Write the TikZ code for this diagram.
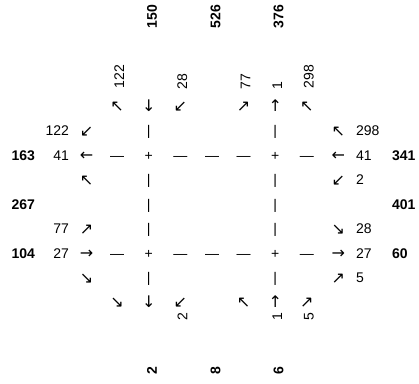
\documentclass[tikz,border=0pt]{standalone}
\usepackage{fontspec}
\setmainfont{Liberation Sans}
\newfontfamily\arw{DejaVu Sans}
\begin{document}
\begin{tikzpicture}[x=1pt,y=-1pt,
  every node/.style={inner sep=0pt, outer sep=0pt, font=\fontsize{14}{16}\selectfont},
  tx/.style={anchor=base},
  ar/.style={anchor=base, font=\fontsize{16}{18}\selectfont\arw},
  bd/.style={font=\fontsize{14}{16}\selectfont\bfseries},
  lnum/.style={anchor=base east},
  rnum/.style={anchor=base west},
  vup/.style={rotate=90, anchor=west},
  vdn/.style={rotate=90, anchor=east}]
\useasboundingbox (0,0) rectangle (419,383);
% top bold labels
\node[bd,vup] (t150) at (152,28) {150};
\node[bd,vup] (t526) at (215.5,28) {526};
\node[bd,vup] (t376) at (278.5,28) {376};
% top small numbers
\node[vup] (tn1) at (119.2,88) {122};
\node[vup] (tn2) at (182.4,89) {28};
\node[vup] (tn3) at (245.6,89) {77};
\node[vup] (tn4) at (277.2,89) {1};
\node[vup] (tn5) at (308.8,88) {298};
% row 0 (y 106, base 111)
\node[ar] (a01) at (117.2,111.5) {↖};
\node[ar] (a02) at (148.8,111.5) {↓};
\node[ar] (a03) at (180.4,111.5) {↙};
\node[ar] (a04) at (243.6,111.5) {↗};
\node[ar] (a05) at (275.2,111.5) {↑};
\node[ar] (a06) at (306.8,111.5) {↖};
% row 1 (base 135.5)
\node[lnum] (n11) at (69,135.5) {122};
\node[ar] (a11) at (86.5,136) {↙};
\node[tx] (v11) at (148.8,135.5) {|};
\node[tx] (v12) at (275.2,135.5) {|};
\node[ar] (a12) at (338.4,136) {↖};
\node[rnum] (n12) at (356,135.5) {298};
% row 2 (base 160)
\node[bd,lnum] (b21) at (35,160) {163};
\node[lnum] (n21) at (69,160) {41};
\node[ar] (a21) at (86.5,160.5) {←};
\node[tx] (h21) at (117.2,160) {—};
\node[tx] (p21) at (148.8,160) {+};
\node[tx] (h22) at (180.4,160) {—};
\node[tx] (h23) at (212,160) {—};
\node[tx] (h24) at (243.6,160) {—};
\node[tx] (p22) at (275.2,160) {+};
\node[tx] (h25) at (306.8,160) {—};
\node[ar] (a22) at (338.4,160.5) {←};
\node[rnum] (n22) at (356,160) {41};
\node[bd,rnum] (b22) at (392,160) {341};
% row 3 (base 184.5)
\node[ar] (a31) at (86.5,185) {↖};
\node[tx] (v31) at (148.8,184.5) {|};
\node[tx] (v32) at (275.2,184.5) {|};
\node[ar] (a32) at (338.4,185) {↙};
\node[rnum] (n32) at (356,184.5) {2};
% row 4 (base 209)
\node[bd,lnum] (b41) at (35,209) {267};
\node[tx] (v41) at (148.8,209) {|};
\node[tx] (v42) at (275.2,209) {|};
\node[bd,rnum] (b42) at (392,209) {401};
% row 5 (base 233.5)
\node[lnum] (n51) at (69,233.5) {77};
\node[ar] (a51) at (86.5,234) {↗};
\node[tx] (v51) at (148.8,233.5) {|};
\node[tx] (v52) at (275.2,233.5) {|};
\node[ar] (a52) at (338.4,234) {↘};
\node[rnum] (n52) at (356,233.5) {28};
% row 6 (base 258)
\node[bd,lnum] (b61) at (35,258) {104};
\node[lnum] (n61) at (69,258) {27};
\node[ar] (a61) at (86.5,258.5) {→};
\node[tx] (h61) at (117.2,258) {—};
\node[tx] (p61) at (148.8,258) {+};
\node[tx] (h62) at (180.4,258) {—};
\node[tx] (h63) at (212,258) {—};
\node[tx] (h64) at (243.6,258) {—};
\node[tx] (p62) at (275.2,258) {+};
\node[tx] (h65) at (306.8,258) {—};
\node[ar] (a62) at (338.4,258.5) {→};
\node[rnum] (n62) at (356,258) {27};
\node[bd,rnum] (b62) at (392,258) {60};
% row 7 (base 282.5)
\node[ar] (a71) at (86.5,283) {↘};
\node[tx] (v71) at (148.8,282.5) {|};
\node[tx] (v72) at (275.2,282.5) {|};
\node[ar] (a72) at (338.4,283) {↗};
\node[rnum] (n72) at (356,282.5) {5};
% row 8 (base 307)
\node[ar] (a81) at (117.2,307.5) {↘};
\node[ar] (a82) at (148.8,307.5) {↓};
\node[ar] (a83) at (180.4,307.5) {↙};
\node[ar] (a84) at (243.6,307.5) {↖};
\node[ar] (a85) at (275.2,307.5) {↑};
\node[ar] (a86) at (306.8,307.5) {↗};
% bottom small numbers
\node[vdn] (bn1) at (182.4,313) {2};
\node[vdn] (bn2) at (277.2,313) {1};
\node[vdn] (bn3) at (308.8,313) {5};
% bottom bold labels
\node[bd,vdn] (c2) at (152,367) {2};
\node[bd,vdn] (c8) at (215.5,367) {8};
\node[bd,vdn] (c6) at (278.5,367) {6};
\end{tikzpicture}
\end{document}
